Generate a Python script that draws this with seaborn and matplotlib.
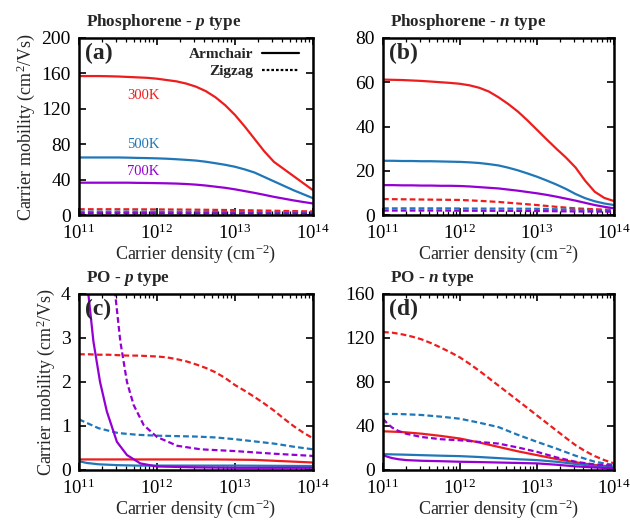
import numpy as np
import pandas as pd
import seaborn as sns
import matplotlib
matplotlib.use("Agg")
import matplotlib.pyplot as plt
from matplotlib.lines import Line2D
from matplotlib.ticker import LogLocator, FuncFormatter, NullFormatter

sns.set_theme(style="ticks")
plt.rcParams['font.family'] = ['Liberation Serif', 'DejaVu Serif']
plt.rcParams['mathtext.fontset'] = 'custom'
plt.rcParams['mathtext.rm'] = 'Liberation Serif'
plt.rcParams['mathtext.it'] = 'Liberation Serif:italic'
plt.rcParams['mathtext.bf'] = 'Liberation Serif:bold'
plt.rcParams['mathtext.bfit'] = 'Liberation Serif:italic:bold'

# ---------------- data ----------------
temps = ["300K", "500K", "700K"]
directions = ["Armchair", "Zigzag"]
# log10 of carrier density (cm^-2)
log_n = [11, 11.25, 11.5, 11.75, 12, 12.25, 12.5, 12.75, 13, 13.25, 13.5, 13.75, 14]
log_n_fine = [11, 11.125, 11.25, 11.375, 11.5, 11.625, 11.75, 11.875, 12, 12.125, 12.25, 12.375, 12.5,
              12.625, 12.75, 12.875, 13, 13.125, 13.25, 13.375, 13.5, 13.625, 13.75, 13.875, 14]

# (a) Phosphorene p-type
a_300_arm = [157, 157, 157, 156.8, 156.5, 156, 155.5, 155, 154, 152.5, 151, 148.5, 145,
             140, 133, 124, 113, 100, 86, 72, 60, 52, 44, 36, 28]
a_500_arm = [65, 65, 65, 65, 65, 64.8, 64.5, 64.3, 64, 63.6, 63, 62.3, 61.5,
             60.2, 58.5, 56.7, 54.5, 51.5, 48, 43, 38, 33, 28, 23.5, 19]
a_700_arm = [36.5, 36.5, 36.5, 36.5, 36.5, 36.5, 36.3, 36.2, 36, 35.8, 35.5, 35, 34.3,
             33.3, 32, 30.7, 29, 27, 25, 22.8, 20.5, 18.5, 16.5, 14.7, 13]
a_300_zig = [6.5, 6.5, 6.5, 6.4, 6.3, 6.2, 6.0, 5.8, 5.5, 5.2, 4.8, 4.4, 4.0]
a_500_zig = [3.8, 3.8, 3.8, 3.8, 3.7, 3.7, 3.6, 3.5, 3.4, 3.3, 3.2, 3.1, 3.0]
a_700_zig = [2.0, 2.0, 2.0, 2.0, 2.0, 1.9, 1.9, 1.9, 1.8, 1.8, 1.7, 1.7, 1.6]

# (b) Phosphorene n-type
b_300_arm = [61.2, 61.1, 61, 60.8, 60.6, 60.3, 60, 59.7, 59.3, 58.6, 57.5, 55.8, 53.2,
             50.2, 46.8, 42.8, 38.5, 34.2, 30, 26, 21.5, 15.5, 10.5, 7.7, 6.3]
b_500_arm = [24.5, 24.5, 24.4, 24.4, 24.3, 24.3, 24.2, 24.1, 24, 23.8, 23.5, 23, 22.4,
             21.4, 20.2, 18.8, 17.3, 15.6, 13.8, 11.8, 9.5, 7.6, 6.2, 5.2, 4.5]
b_700_arm = [13.5, 13.5, 13.4, 13.4, 13.3, 13.3, 13.2, 13.2, 13.1, 12.9, 12.6, 12.3, 12,
             11.5, 11, 10.4, 9.8, 9.1, 8.3, 7.4, 6.5, 5.5, 4.5, 3.7, 3.0]
b_300_zig = [7.2, 7.1, 7.0, 6.9, 6.8, 6.4, 5.9, 5.2, 4.5, 3.7, 3.0, 2.6, 2.3]
b_500_zig = [3.0, 3.0, 3.0, 3.0, 2.95, 2.9, 2.9, 2.85, 2.8, 2.6, 2.4, 2.2, 2.0]
b_700_zig = [2.0, 2.0, 2.0, 2.0, 1.95, 1.9, 1.9, 1.85, 1.8, 1.7, 1.6, 1.55, 1.5]

# (c) PO p-type
c_300_arm = [0.24, 0.24, 0.24, 0.24, 0.24, 0.24, 0.24, 0.24, 0.235, 0.23, 0.21, 0.19, 0.17]
c_500_arm_log_n = [11, 11.1, 11.25, 11.5, 11.75, 12, 12.5, 13, 13.5, 14]
c_500_arm = [0.2, 0.16, 0.13, 0.11, 0.1, 0.1, 0.1, 0.1, 0.095, 0.09]
c_700_arm_log_n = [11.0, 11.06, 11.12, 11.185, 11.27, 11.357, 11.486, 11.615, 11.786, 12.0, 12.5, 13, 13.5, 14]
c_700_arm = [6.2, 5.0, 4.0, 2.92, 2.0, 1.33, 0.64, 0.34, 0.15, 0.08, 0.06, 0.05, 0.05, 0.05]
c_300_zig = [2.63, 2.63, 2.62, 2.62, 2.61, 2.6, 2.6, 2.59, 2.58, 2.56, 2.52, 2.47, 2.4,
             2.32, 2.22, 2.09, 1.93, 1.8, 1.66, 1.51, 1.35, 1.17, 1.0, 0.85, 0.72]
c_500_zig = [1.15, 0.95, 0.84, 0.8, 0.78, 0.77, 0.76, 0.74, 0.7, 0.65, 0.6, 0.53, 0.47]
c_700_zig_log_n = [11.3, 11.4, 11.464, 11.53, 11.615, 11.70, 11.83, 12.0, 12.26, 12.56, 13.0, 13.5, 14]
c_700_zig = [7.5, 5.2, 4.0, 2.92, 2.0, 1.48, 1.02, 0.75, 0.55, 0.47, 0.43, 0.37, 0.32]

# (d) PO n-type
d_300_arm = [35.2, 34.5, 33, 31, 28.6, 25, 21, 17, 13.5, 10, 7, 4.5, 3]
d_500_arm = [14.4, 14, 13.5, 13, 12.6, 11.8, 10.8, 9.8, 9, 7.5, 5.5, 3.8, 2.4]
d_700_arm_log_n = [11, 11.06, 11.12, 11.2, 11.3, 11.5, 11.75, 12, 12.25, 12.5, 12.75, 13, 13.25, 13.5, 13.75, 14]
d_700_arm = [13.5, 12, 10.8, 9.8, 9, 8.4, 8, 7.5, 7.2, 6.8, 6.4, 6, 4.8, 3.3, 2.3, 1.5]
d_300_zig = [125.4, 124.8, 123.3, 121.3, 118.8, 115.3, 111.3, 107, 102.3, 96.5, 90.2, 83.5, 76.7,
             70, 63.2, 56.4, 49.6, 42.8, 36, 29.2, 22.6, 17.2, 12.6, 9, 6]
d_500_zig = [51, 50.8, 50, 48.5, 46.6, 43, 39, 32, 25.6, 19.5, 13, 7.5, 4.5]
d_700_zig_log_n = [11, 11.06, 11.12, 11.2, 11.3, 11.5, 11.75, 12, 12.25, 12.5, 12.75, 13, 13.25, 13.5, 13.75, 14]
d_700_zig = [46.6, 42, 38.5, 35.5, 33, 30, 28, 27, 25.5, 24, 20.5, 16.5, 11.5, 7.5, 5, 4]

panel_titles = ["Phosphorene - $\\mathbfit{p}$ type", "Phosphorene - $\\mathbfit{n}$ type",
                "PO - $\\mathbfit{p}$ type", "PO - $\\mathbfit{n}$ type"]
panel_tags = ["(a)", "(b)", "(c)", "(d)"]
y_limits = [200, 80, 4, 160]
y_ticks = [[0, 40, 80, 120, 160, 200], [0, 20, 40, 60, 80], [0, 1, 2, 3, 4], [0, 40, 80, 120, 160]]

colors = {"300K": "#ee1d1d", "500K": "#1f77b8", "700K": "#9400d3"}


def frame(series):
    rows = []
    for (temp, direction, xs, ys) in series:
        for x, y in zip(xs, ys):
            rows.append({"density": 10.0 ** x, "mobility": y, "T": temp, "dir": direction})
    return pd.DataFrame(rows)


panels = [
    frame([("300K", "Armchair", log_n_fine, a_300_arm), ("500K", "Armchair", log_n_fine, a_500_arm),
           ("700K", "Armchair", log_n_fine, a_700_arm), ("300K", "Zigzag", log_n, a_300_zig),
           ("500K", "Zigzag", log_n, a_500_zig), ("700K", "Zigzag", log_n, a_700_zig)]),
    frame([("300K", "Armchair", log_n_fine, b_300_arm), ("500K", "Armchair", log_n_fine, b_500_arm),
           ("700K", "Armchair", log_n_fine, b_700_arm), ("300K", "Zigzag", log_n, b_300_zig),
           ("500K", "Zigzag", log_n, b_500_zig), ("700K", "Zigzag", log_n, b_700_zig)]),
    frame([("300K", "Armchair", log_n, c_300_arm), ("500K", "Armchair", c_500_arm_log_n, c_500_arm),
           ("700K", "Armchair", c_700_arm_log_n, c_700_arm), ("300K", "Zigzag", log_n_fine, c_300_zig),
           ("500K", "Zigzag", log_n, c_500_zig), ("700K", "Zigzag", c_700_zig_log_n, c_700_zig)]),
    frame([("300K", "Armchair", log_n, d_300_arm), ("500K", "Armchair", log_n, d_500_arm),
           ("700K", "Armchair", d_700_arm_log_n, d_700_arm), ("300K", "Zigzag", log_n_fine, d_300_zig),
           ("500K", "Zigzag", log_n, d_500_zig), ("700K", "Zigzag", d_700_zig_log_n, d_700_zig)]),
]

fig = plt.figure(figsize=(6.3, 5.21), dpi=100)
positions = [
    [79 / 630, 1 - 215 / 521, 234 / 630, 177 / 521],
    [383 / 630, 1 - 215 / 521, 231 / 630, 177 / 521],
    [79 / 630, 1 - 470 / 521, 234 / 630, 176 / 521],
    [383 / 630, 1 - 470 / 521, 231 / 630, 176 / 521],
]

dash = (2.6, 1.4)
for i, df in enumerate(panels):
    ax = fig.add_axes(positions[i])
    sns.lineplot(data=df, x="density", y="mobility", hue="T", style="dir",
                 hue_order=temps, style_order=directions, palette=colors,
                 dashes={"Armchair": "", "Zigzag": dash}, estimator=None,
                 sort=True, linewidth=1.6, legend=False, ax=ax)
    ax.set_xscale("log")
    ax.set_xlim(1e11, 1e14)
    ax.set_ylim(0, y_limits[i])
    ax.set_yticks(y_ticks[i])
    ax.xaxis.set_major_locator(LogLocator(base=10, numticks=10))
    ax.xaxis.set_minor_locator(LogLocator(base=10, subs=np.arange(2, 10), numticks=20))
    ax.xaxis.set_minor_formatter(NullFormatter())
    ax.xaxis.set_major_formatter(FuncFormatter(lambda v, p: r"$\mathregular{10^{%d}}$" % round(np.log10(v))))
    ax.tick_params(axis="both", which="both", direction="in", top=True, right=True,
                   colors="black")
    ax.tick_params(axis="x", which="major", labelsize=13.5, pad=6)
    ax.tick_params(axis="y", which="major", labelsize=14, pad=6)
    ax.tick_params(axis="both", which="major", length=5, width=1.2)
    ax.tick_params(axis="x", which="minor", length=3, width=0.9)
    for s in ax.spines.values():
        s.set_linewidth(1.8)
        s.set_color("black")
    ax.set_xlabel("Carrier density (cm$^{-2}$)", fontsize=13, labelpad=0)
    if i % 2 == 0:
        ax.set_ylabel("Carrier mobility (cm$^{2}$/Vs)", fontsize=13, labelpad=3)
    else:
        ax.set_ylabel("")
    ax.text(0.03, 1.035, panel_titles[i], transform=ax.transAxes, fontsize=12.3,
            fontweight="bold", ha="left", va="bottom")
    ax.text(0.025, 0.975, panel_tags[i], transform=ax.transAxes, fontsize=17,
            fontweight="bold", ha="left", va="top")
    if i == 0:
        handles = [Line2D([], [], color="black", lw=1.6, ls="-"),
                   Line2D([], [], color="black", lw=1.6, ls=(0, (1.2, 0.9)))]
        ax.legend(handles, directions, loc="upper right", frameon=False, markerfirst=False,
                  prop={"family": "Liberation Serif", "weight": "bold", "size": 11},
                  handlelength=2.4, handletextpad=0.6, labelspacing=0.25,
                  borderaxespad=0.2, bbox_to_anchor=(0.98, 1.0))
        ax.text(10 ** 11.82, 135, "300K", color=colors["300K"], fontsize=10.5, ha="center", va="center")
        ax.text(10 ** 11.82, 80, "500K", color=colors["500K"], fontsize=10.5, ha="center", va="center")
        ax.text(10 ** 11.82, 49, "700K", color=colors["700K"], fontsize=10.5, ha="center", va="center")

fig.savefig("out.png", dpi=100)
